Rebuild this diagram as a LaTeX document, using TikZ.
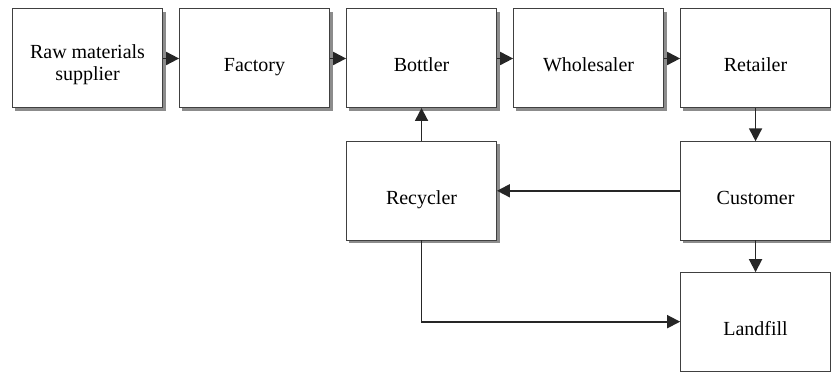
\documentclass[tikz,border=0pt]{standalone}
\usepackage{fontspec}
\setmainfont{Liberation Serif}
\usepackage{tikz}
\usepackage{tkz-graph}
\usetikzlibrary{arrows.meta,shadows}

\begin{document}
\begin{tikzpicture}[->]
        \GraphInit[vstyle=Normal]
        \SetGraphUnit{2.935}
        \tikzset{VertexStyle/.style={shape=rectangle, draw=black!75,
            fill=white, line width=0.5pt, minimum width=2.65cm,
            minimum height=1.74cm, align=center,
            font=\rmfamily\fontsize{10}{11}\selectfont,
            execute at begin node={\rule[-3.3pt]{0pt}{20pt}},
            drop shadow={shadow xshift=1.4pt, shadow yshift=-1.4pt,
              fill=black!45, opacity=1}}}
        \tikzset{EdgeStyle/.style={draw, line width=0.9pt, black!85,
            >={Triangle[length=6.5pt,width=6.5pt]}}}
        % tkz-graph expands the style key, so the elbow path lives in its own style
        \tikzset{elbow/.style={to path={|- (\tikztotarget) \tikztonodes}}}

        \useasboundingbox (-1.538,1.028) rectangle (13.066,-5.509);

        \Vertex[L={\rule{0pt}{14pt}Raw materials\\supplier}]{raw}
        \EA[L=Factory](raw){factory}
        \EA[L=Bottler](factory){bottler}
        \EA[L=Wholesaler](bottler){wholesaler}
        \EA[L=Retailer](wholesaler){retailer}

        \SO[unit=2.325, L=Recycler](bottler){recycler}
        \SO[unit=2.325, L=Customer](retailer){customer}
        \SO[unit=2.3, L=Landfill](customer){landfill}

        \Edge(raw)(factory)
        \Edge(factory)(bottler)
        \Edge(bottler)(wholesaler)
        \Edge(wholesaler)(retailer)
        \Edge(retailer)(customer)
        \Edge(customer)(recycler)
        \Edge(recycler)(bottler)
        \Edge(customer)(landfill)
        \Edge[style={elbow}](recycler)(landfill)
      \end{tikzpicture}
\end{document}
